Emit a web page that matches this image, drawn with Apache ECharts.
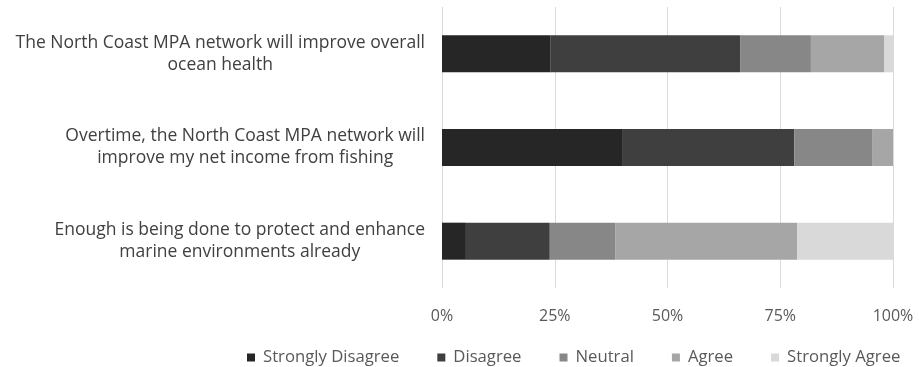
<!DOCTYPE html>
<html>
<head>
<meta charset="utf-8">
<script src="https://cdn.jsdelivr.net/npm/echarts@6/dist/echarts.min.js"></script>
<style>
  html, body { margin: 0; padding: 0; background: #ffffff; }
  #chart { width: 919px; height: 367px; }
</style>
</head>
<body>
<div id="chart"></div>
<script>
// Survey statements (top to bottom)
var statements = [
  'The North Coast MPA network will improve overall\nocean health',
  'Overtime, the North Coast MPA network will\nimprove my net income from fishing',
  'Enough is being done to protect and enhance\nmarine environments already'
];

// Response categories
var responses = ['Strongly Disagree', 'Disagree', 'Neutral', 'Agree', 'Strongly Agree'];

// Share of respondents (%) per statement, one array per response
var stronglyDisagree = [24.1, 40.1, 5.3];
var disagree         = [42.0, 38.0, 18.6];
var neutral          = [15.7, 17.4, 14.6];
var agree            = [16.3, 4.5, 40.3];
var stronglyAgree    = [1.9, 0.0, 21.2];

// Percent axis ticks
var percentTicks = [0, 25, 50, 75, 100];

var responseValues = [stronglyDisagree, disagree, neutral, agree, stronglyAgree];
var responseColors = ['#262626', '#3f3f3f', '#878787', '#a6a6a6', '#d9d9d9'];

var fontFamily = '"Open Sans", Lato, sans-serif';

var series = responses.map(function (name, i) {
  return {
    name: name,
    type: 'bar',
    stack: 'total',
    barWidth: 37,
    data: responseValues[i],
    itemStyle: { color: responseColors[i] },
    emphasis: { disabled: true }
  };
});

var chart = echarts.init(document.getElementById('chart'), null, { renderer: 'canvas' });

chart.setOption({
  animation: false,
  backgroundColor: '#ffffff',
  grid: { left: 442, right: 26, top: 7, bottom: 79, containLabel: false },
  xAxis: {
    type: 'value',
    min: percentTicks[0],
    max: percentTicks[percentTicks.length - 1],
    interval: 25,
    axisLine: { show: false },
    axisTick: { show: false },
    splitLine: { show: true, lineStyle: { color: '#d9d9d9', width: 1 } },
    axisLabel: {
      margin: 20,
      color: '#595959',
      fontFamily: fontFamily,
      fontSize: 16,
      formatter: function (v) { return v + '%'; }
    }
  },
  yAxis: {
    type: 'category',
    inverse: true,
    data: statements,
    axisLine: { show: false },
    axisTick: { show: false },
    axisLabel: {
      margin: 17,
      align: 'right',
      color: '#404040',
      fontFamily: fontFamily,
      fontSize: 17.5,
      lineHeight: 22,
      formatter: function (v) {
        return v.split('\n').map(function (line) { return '{c|' + line + '}'; }).join('\n');
      },
      rich: {
        c: {
          align: 'center',
          color: '#404040',
          fontFamily: fontFamily,
          fontSize: 17.5,
          lineHeight: 22
        }
      }
    }
  },
  legend: {
    data: responses,
    left: 242,
    top: 344,
    itemWidth: 8,
    itemHeight: 8,
    itemGap: 38,
    icon: 'rect',
    textStyle: {
      color: '#595959',
      fontFamily: fontFamily,
      fontSize: 16.7,
      padding: [0, 0, 0, 3]
    }
  },
  series: series
});
</script>
</body>
</html>
